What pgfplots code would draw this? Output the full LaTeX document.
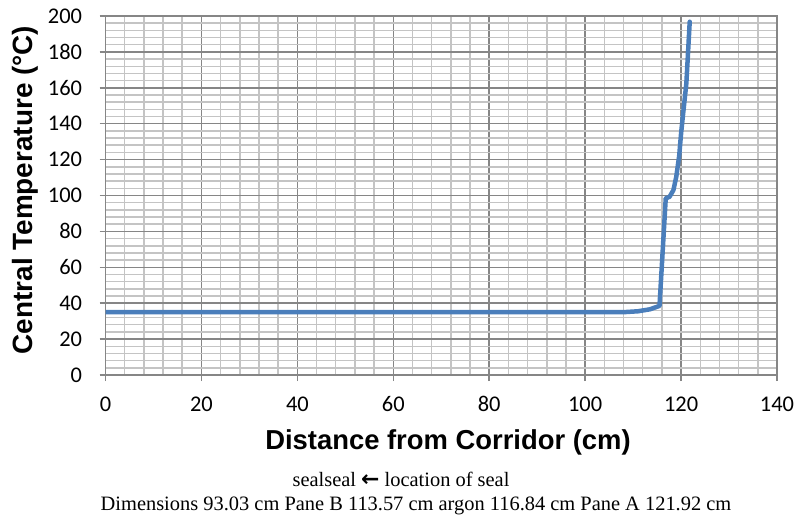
\documentclass[border=0pt]{standalone}
\usepackage{pgfplots}
\pgfplotsset{compat=1.18}
\usepackage{fontspec}
\setmainfont{Liberation Serif}
\newfontfamily\carlito{Carlito}
\newfontfamily\arial{Liberation Sans}
\newfontfamily\dejavu{DejaVu Sans}
\definecolor{lineblue}{HTML}{4A7EBB}
\definecolor{majgrid}{HTML}{868686}
\definecolor{mingrid}{HTML}{C4C4C4}
\begin{document}
\begin{tikzpicture}[x=1bp,y=1bp]
\path[use as bounding box] (0,0) rectangle (795,-516);
\begin{axis}[
  at={(105.5bp,-375bp)}, anchor=south west,
  width=671.5bp, height=359bp, scale only axis,
  xmin=0, xmax=140, ymin=0, ymax=200,
  xtick={0,20,...,140}, ytick={0,20,...,200},
  minor x tick num=4, minor y tick num=4,
  grid=both,
  major grid style={draw=majgrid, line width=1.5bp},
  minor grid style={draw=mingrid, line width=1.5bp},
  axis line style={draw=majgrid, line width=1.5bp},
  tick style={draw=majgrid, line width=1.5bp},
  tick align=outside, major tick length=6bp, minor tick length=0pt,
  xtick pos=bottom, ytick pos=left,
  /pgf/number format/assume math mode=true,
  tick label style={font=\carlito\fontsize{22.5}{24}\selectfont, text=black},
  xticklabel style={yshift=-12bp},
  yticklabel style={xshift=-14bp},
]
\addplot[lineblue, line width=4.5bp, line join=round, line cap=round] coordinates {
(0,35) (108,35) (111,35.5) (113.5,36.6) (115.5,38.5)
(116.8,98.4) (117.6,99.3) (118.4,103) (119.0,110.5) (119.6,122)
(120.0,134.6) (120.6,150) (121.1,162.5) (121.8,196.8)
};
\end{axis}
\node[font=\arial\bfseries\fontsize{28}{30}\selectfont, rotate=90] at (25,-190) {Central Temperature (°C)};
\node[font=\arial\bfseries\fontsize{27.5}{30}\selectfont, anchor=base] at (448,-449) {Distance from Corridor (cm)};
\node[font=\fontsize{20.5}{22}\selectfont, anchor=base] at (401,-486) {sealseal {\dejavu\bfseries\fontsize{22}{22}\selectfont ←} location of seal};
\node[font=\fontsize{20.5}{22}\selectfont, anchor=base] at (416,-510) {Dimensions 93.03 cm Pane B 113.57 cm argon 116.84 cm Pane A 121.92 cm};
\end{tikzpicture}
\end{document}
